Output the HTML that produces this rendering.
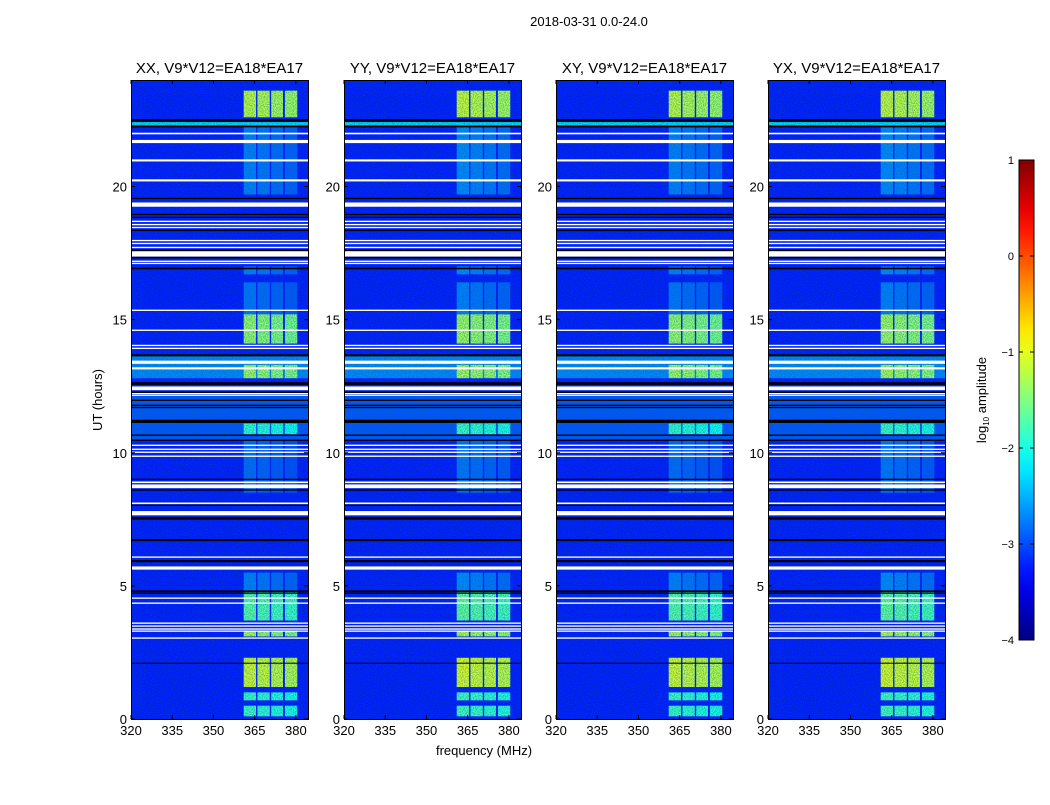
<!DOCTYPE html>
<html><head><meta charset="utf-8">
<style>
body{margin:0;background:#fff;font-family:"Liberation Sans",sans-serif;}
svg text{font-family:"Liberation Sans",sans-serif;}
</style></head>
<body>
<svg id="fig" width="1050" height="800" xmlns="http://www.w3.org/2000/svg">
<defs>
<filter id="noise" x="0" y="0" width="100%" height="100%">
<feTurbulence type="fractalNoise" baseFrequency="0.9" numOctaves="1" seed="3" result="n"/>
<feColorMatrix in="n" type="matrix" values="0 0 0 0 0  0 0 0 0 0.1  0 0 0 0 0.3  0 0 0 -2.2 1.4"/>
</filter>
</defs>
<text x="589" y="26" font-size="13" text-anchor="middle">2018-03-31 0.0-24.0</text>
<text transform="translate(102,400) rotate(-90)" font-size="13" text-anchor="middle">UT (hours)</text>
<text x="484" y="755" font-size="13" text-anchor="middle">frequency (MHz)</text>
<g id="panels"></g>
<g id="cbar"></g>
</svg>
<script>
// ---- data ----
const panelTitles = ["XX, V9*V12=EA18*EA17","YY, V9*V12=EA18*EA17","XY, V9*V12=EA18*EA17","YX, V9*V12=EA18*EA17"];
const xTicks = [320,335,350,365,380];
const yTicks = [0,5,10,15,20];
const cbarTicks = [1,0,-1,-2,-3,-4];
const bandStart = [361,366,371,376];
const bandEnd = [365.5,370.5,375.3,380.5];
const bandT0 = [22.6,19.7,16.7,15.2,14.1,12.8,10.7,8.5,4.8,3.7,3.1,1.2,0.7,0.1];
const bandT1 = [23.6,22.3,17.0,16.4,15.2,13.3,11.1,10.5,5.5,4.8,3.3,2.3,1.0,0.5];
const bandLevel = [-1.2,-2.75,-2.75,-2.8,-1.4,-1.35,-1.9,-2.85,-2.75,-1.7,-1.3,-1.1,-1.85,-1.85];
const panelBoost = [0,0.05,0,0.05];
const bgT0 = [0,12.8,10.5,22.3];
const bgT1 = [24,13.7,12.2,22.42];
const bgLevel = [-3.25,-2.7,-2.95,-2.3];
const whiteT = [21.99,21.69,20.98,20.23,19.32,18.69,18.57,18.46,17.97,17.86,17.71,17.49,17.19,17.11,15.35,14.6,14.03,13.92,13.4,13.17,12.42,12.23,12.16,10.28,10.13,10.02,9.87,8.89,8.74,8.1,7.73,6.08,5.67,4.54,4.35,3.6,3.49,3.38,3.3,3.04];
const whiteW = [0.06,0.12,0.08,0.08,0.16,0.05,0.05,0.05,0.05,0.05,0.05,0.25,0.05,0.05,0.05,0.05,0.05,0.05,0.12,0.08,0.14,0.05,0.05,0.05,0.05,0.05,0.05,0.06,0.14,0.06,0.16,0.05,0.12,0.05,0.05,0.05,0.05,0.05,0.05,0.05];
const blackT = [22.48,22.25,19.55,18.95,18.84,18.35,17.6,17.33,16.92,13.66,12.6,12.27,11.97,11.78,11.7,11.18,10.66,10.47,9.0,8.6,8.03,7.54,6.72,5.93,4.8,4.73,2.1];
const blackW = [0.1,0.06,0.05,0.05,0.05,0.05,0.06,0.06,0.06,0.08,0.1,0.05,0.05,0.05,0.05,0.12,0.05,0.05,0.05,0.05,0.05,0.1,0.08,0.08,0.06,0.05,0.03];

// ---- layout ----
const NS="http://www.w3.org/2000/svg";
const panelX=[131,344,556,768], PW=177, PT=80, PB=719;
const fMin=320, fMax=384.4, tMin=0, tMax=24;
function xs(i,f){return panelX[i]+(f-fMin)/(fMax-fMin)*PW;}
function ys(t){return PB-(t-tMin)/(tMax-tMin)*(PB-PT);}
function jet(v){
  let n=Math.max(0,Math.min(1,(v+4)/5));
  const c=x=>Math.max(0,Math.min(1,x));
  const r=c(1.5-Math.abs(4*n-3)), g=c(1.5-Math.abs(4*n-2)), b=c(1.5-Math.abs(4*n-1));
  return `rgb(${Math.round(r*255)},${Math.round(g*255)},${Math.round(b*255)})`;
}
function mk(tag,attrs,parent){const e=document.createElementNS(NS,tag);for(const k in attrs)e.setAttribute(k,attrs[k]);parent.appendChild(e);return e;}
const panels=document.getElementById('panels');
for(let i=0;i<4;i++){
  const g=mk('g',{},panels);
  
  
  for(let j=0;j<bgT0.length;j++){
    const r=mk('rect',{x:panelX[i],y:ys(bgT1[j]),width:PW,height:ys(bgT0[j])-ys(bgT1[j]),fill:jet(bgLevel[j])},g);
    
    
  }
  for(let b=0;b<bandStart.length;b++){
    for(let j=0;j<bandT0.length;j++){
      const r=mk('rect',{x:xs(i,bandStart[b]),y:ys(bandT1[j]),width:xs(i,bandEnd[b])-xs(i,bandStart[b]),height:ys(bandT0[j])-ys(bandT1[j]),fill:jet(bandLevel[j]+panelBoost[i]-b*0.05)},g);
      
      
    }
  }
  const nz=mk('rect',{x:panelX[i],y:PT,width:PW,height:PB-PT,fill:'#000',filter:'url(#noise)',opacity:0.55},g);
  
  
  for(let j=0;j<whiteT.length;j++){
    const r=mk('rect',{x:panelX[i],y:ys(whiteT[j]+whiteW[j]/2),width:PW,height:Math.max(1.3,ys(whiteT[j]-whiteW[j]/2)-ys(whiteT[j]+whiteW[j]/2)),fill:'#fff'},g);
    
    
  }
  for(let j=0;j<blackT.length;j++){
    const r=mk('rect',{x:panelX[i],y:ys(blackT[j]+blackW[j]/2),width:PW,height:Math.max(1,ys(blackT[j]-blackW[j]/2)-ys(blackT[j]+blackW[j]/2)),fill:'#000'},g);
    
    
  }
  const fr=mk('rect',{x:panelX[i]+0.5,y:PT+0.5,width:PW,height:PB-PT,fill:'none',stroke:'#000','stroke-width':1},g);
  
  
  const tt=mk('text',{x:panelX[i]+PW/2,y:PT-7,'font-size':15,'text-anchor':'middle'},g);
  tt.textContent=panelTitles[i];
  
  
  xTicks.forEach(f=>{
    const x=xs(i,f);
    mk('line',{x1:x,x2:x,y1:PB,y2:PB-4,stroke:'#000'},g);
    mk('line',{x1:x,x2:x,y1:PT,y2:PT+4,stroke:'#000'},g);
    const t=mk('text',{x:x,y:PB+16,'font-size':13,'text-anchor':'middle'},g);
    t.textContent=f;
    
    
  });
  yTicks.forEach(v=>{
    const y=ys(v);
    mk('line',{x1:panelX[i],x2:panelX[i]+4,y1:y,y2:y,stroke:'#000'},g);
    mk('line',{x1:panelX[i]+PW,x2:panelX[i]+PW-4,y1:y,y2:y,stroke:'#000'},g);
    const t=mk('text',{x:panelX[i]-4,y:y+5,'font-size':13,'text-anchor':'end'},g);
    t.textContent=v;
    
    
  });
}
// colorbar
const cb=document.getElementById('cbar');


const defs=mk('defs',{},cb);
const lg=mk('linearGradient',{id:'jetg',x1:0,y1:1,x2:0,y2:0},defs);
for(let k=0;k<=20;k++){mk('stop',{offset:k/20,'stop-color':jet(-4+5*k/20)},lg);}
const CX=1019,CW=15,CT=160,CB=640;
mk('rect',{x:CX,y:CT,width:CW,height:CB-CT,fill:'url(#jetg)',stroke:'#000','stroke-width':1},cb);
cbarTicks.forEach(v=>{
  const y=CB-(v+4)/5*(CB-CT);
  mk('line',{x1:CX,x2:CX+4,y1:y,y2:y,stroke:'#000'},cb);
  mk('line',{x1:CX+CW,x2:CX+CW-4,y1:y,y2:y,stroke:'#000'},cb);
  const t=mk('text',{x:CX-5,y:y+4,'font-size':11,'text-anchor':'end'},cb);
  t.textContent=(v<0?'\u2212'+(-v):v);
  
  
});
const cl=mk('text',{transform:'translate(986,400) rotate(-90)','font-size':13,'text-anchor':'middle'},cb);
cl.innerHTML='log<tspan font-size="8" dy="3">10</tspan><tspan dy="-3"> amplitude</tspan>';


</script>
</body></html>
